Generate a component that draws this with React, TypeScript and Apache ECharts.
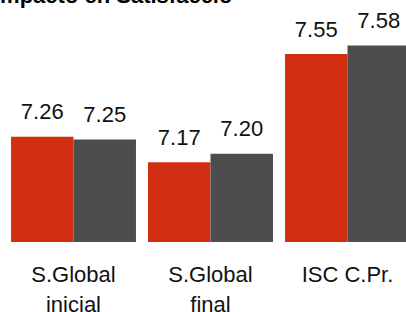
import React, { useEffect, useRef } from "react";
import * as echarts from "echarts";

const categories = ["S.Global\ninicial", "S.Global\nfinal", "ISC C.Pr."];
const seriesA = [7.26, 7.17, 7.55];
const seriesB = [7.25, 7.2, 7.58];
const titleText = "Impacto en Satisfacció";

const FONT = "'Liberation Sans', Arial, sans-serif";

export default function App() {
  const ref = useRef<HTMLDivElement>(null);
  useEffect(() => {
    if (!ref.current) return;
    const chart = echarts.init(ref.current, undefined, { renderer: "svg" });
    const label = {
      show: true,
      position: "top",
      distance: 14,
      fontSize: 22,
      lineHeight: 22,
      fontFamily: FONT,
      color: "#111",
      formatter: (p: any) => Number(p.value).toFixed(2),
    };
    chart.setOption({
      animation: false,
      grid: {
        left: 5,
        width: 411,
        top: 0,
        bottom: 70,
        containLabel: false,
        outerBoundsMode: "none",
      },
      xAxis: {
        type: "category",
        data: categories,
        axisLine: { show: false },
        axisTick: { show: false },
        axisLabel: {
          fontSize: 22,
          lineHeight: 30,
          fontFamily: FONT,
          color: "#111",
          margin: 17,
          interval: 0,
        },
      },
      yAxis: {
        type: "value",
        min: 6.89,
        max: 7.74,
        show: false,
        splitLine: { show: false },
      },
      series: [
        {
          type: "bar",
          data: seriesA,
          barGap: "0%",
          barCategoryGap: "8.8%",
          itemStyle: { color: "#D32E12" },
          label,
        },
        {
          type: "bar",
          data: seriesB,
          barGap: "0%",
          barCategoryGap: "8.8%",
          itemStyle: { color: "#4D4D4D" },
          label,
        },
      ],
      graphic: [
        {
          type: "text",
          x: -6,
          y: -4.5,
          style: {
            text: titleText,
            fontSize: 22,
            fontWeight: "bold",
            fontFamily: FONT,
            fill: "#000",
            textAlign: "left",
            textVerticalAlign: "middle",
          },
        },
      ],
    });
    return () => chart.dispose();
  }, []);
  return (
    <div
      style={{
        position: "absolute",
        left: 0,
        top: 0,
        width: 406,
        height: 312,
        overflow: "hidden",
        background: "#fff",
      }}
    >
      <div ref={ref} style={{ width: 420, height: 312 }} />
    </div>
  );
}
